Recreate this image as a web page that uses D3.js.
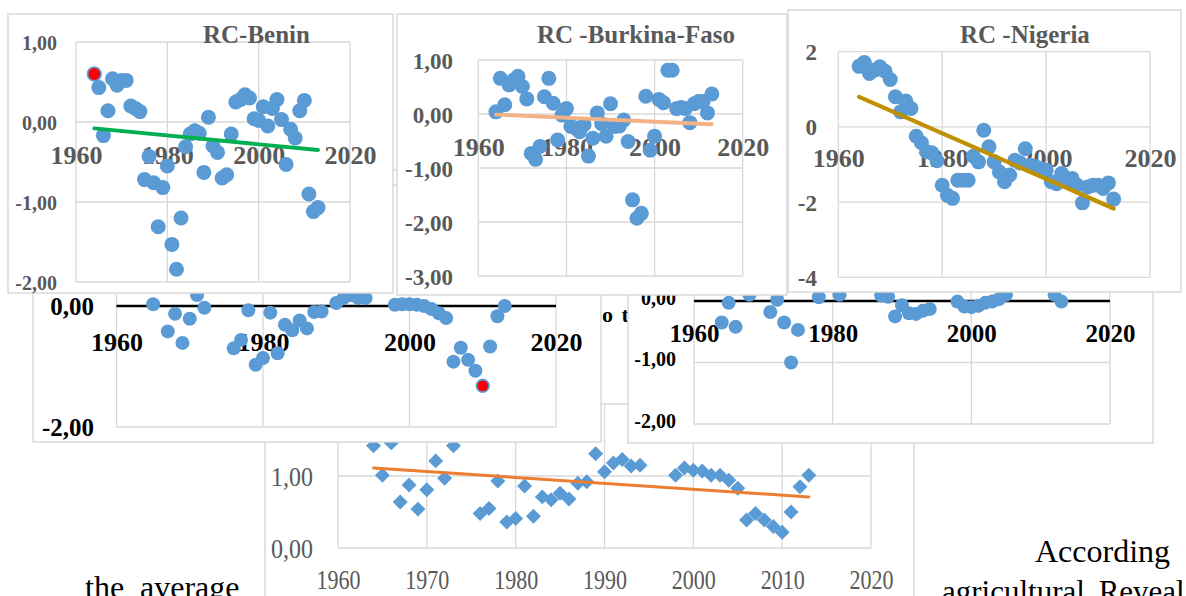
<!DOCTYPE html>
<html>
<head>
<meta charset="utf-8">
<script src="https://cdn.jsdelivr.net/npm/d3@7"></script>
<style>
  html, body { margin: 0; padding: 0; background: #fff; overflow: hidden; }
  svg { display: block; }
</style>
</head>
<body>
<svg id="page" width="1186" height="596"></svg>
<script>
// ---------------- data ----------------
const decadeTicks = [1960, 1970, 1980, 1990, 2000, 2010, 2020];
const twentyTicks = [1960, 1980, 2000, 2020];

// RC - Benin (1964-2013)
const beninYears = [1964,1965,1966,1967,1968,1969,1970,1971,1972,1973,1974,1975,1976,1977,1978,1979,1980,1981,1982,1983,1984,1985,1986,1987,1988,1989,1990,1991,1992,1993,1994,1995,1996,1997,1998,1999,2000,2001,2002,2003,2004,2005,2006,2007,2008,2009,2010,2011,2012,2013];
const beninRC = [0.60,0.43,-0.17,0.14,0.54,0.46,0.52,0.52,0.20,0.17,0.13,-0.72,-0.43,-0.76,-1.31,-0.82,-0.55,-1.53,-1.84,-1.20,-0.31,-0.15,-0.11,-0.14,-0.63,0.06,-0.30,-0.38,-0.70,-0.66,-0.15,0.25,0.28,0.34,0.30,0.04,0.02,0.19,-0.05,0.17,0.28,0.03,-0.53,-0.09,-0.20,0.14,0.27,-0.90,-1.12,-1.07];
const beninTrendYears = [1964, 2013];
const beninTrend = [-0.08, -0.35];
const beninHighlight = [1964];
const beninYTicks = [1, 0, -1, -2];

// RC - Burkina-Faso (1964-2013)
const burkinaYears = [1964,1965,1966,1967,1968,1969,1970,1971,1972,1973,1974,1975,1976,1977,1978,1979,1980,1981,1982,1983,1984,1985,1986,1987,1988,1989,1990,1991,1992,1993,1994,1995,1996,1997,1998,1999,2000,2001,2002,2003,2004,2005,2006,2007,2008,2009,2010,2011,2012,2013];
const burkinaRC = [0.04,0.66,0.17,0.54,0.63,0.70,0.51,0.28,-0.73,-0.84,-0.60,0.32,0.66,0.20,-0.48,-0.02,0.10,-0.23,-0.26,-0.33,-0.20,-0.78,-0.45,0.02,-0.18,-0.41,0.19,-0.23,-0.22,-0.11,-0.51,-1.59,-1.93,-1.84,0.33,-0.67,-0.41,0.27,0.21,0.81,0.81,0.10,0.12,0.10,-0.16,0.19,0.23,0.23,0.02,0.37];
const burkinaTrendYears = [1964, 2013];
const burkinaTrend = [-0.01, -0.19];
const burkinaYTicks = [1, 0, -1, -2, -3];

// RC - Nigeria (1964-2013)
const nigeriaYears = [1964,1965,1966,1967,1968,1969,1970,1971,1972,1973,1974,1975,1976,1977,1978,1979,1980,1981,1982,1983,1984,1985,1986,1987,1988,1989,1990,1991,1992,1993,1994,1995,1996,1997,1998,1999,2000,2001,2002,2003,2004,2005,2006,2007,2008,2009,2010,2011,2012,2013];
const nigeriaRC = [1.61,1.71,1.42,1.51,1.60,1.48,1.26,0.80,0.40,0.69,0.49,-0.25,-0.42,-0.66,-0.69,-0.90,-1.55,-1.82,-1.90,-1.42,-1.42,-1.42,-0.78,-0.93,-0.09,-0.53,-0.93,-1.20,-1.46,-1.28,-0.89,-0.96,-0.58,-1.02,-1.06,-1.11,-1.15,-1.46,-1.51,-1.24,-1.46,-1.37,-1.55,-2.02,-1.60,-1.55,-1.55,-1.64,-1.49,-1.92];
const nigeriaTrendYears = [1964, 2013];
const nigeriaTrend = [0.80, -2.17];
const nigeriaYTicks = [2, 0, -2, -4];

// second-row left panel
const midLeftYears = [1965,1967,1968,1969,1970,1971,1972,1976,1977,1978,1979,1980,1981,1982,1983,1984,1985,1986,1987,1988,1990,1991,1992,1993,1994,1998,1999,2000,2001,2002,2003,2004,2005,2006,2007,2008,2009,2010,2011,2012,2013];
const midLeftRC = [0.03,-0.42,-0.13,-0.61,-0.21,0.18,-0.03,-0.70,-0.56,-0.07,-0.97,-0.86,-0.11,-0.78,-0.31,-0.40,-0.24,-0.37,-0.10,-0.09,0.05,0.13,0.18,0.13,0.13,0.02,0.03,0.03,0.02,0.00,-0.05,-0.12,-0.20,-0.92,-0.69,-0.89,-1.07,-1.32,-0.67,-0.17,0.00];
const midLeftHighlight = [2010];
const midLeftYTicks = [2, 0, -2];

// second-row right panel
const midRightYears = [1964,1965,1966,1968,1971,1972,1973,1974,1975,1978,1981,1987,1988,1989,1990,1991,1992,1993,1994,1998,1999,2000,2001,2002,2003,2004,2005,2012,2013];
const midRightRC = [-0.35,-0.03,-0.42,0.10,-0.18,0.02,-0.35,-1.00,-0.47,0.06,0.10,0.09,0.07,-0.25,-0.07,-0.20,-0.21,-0.16,-0.13,-0.01,-0.09,-0.10,-0.08,-0.03,-0.01,0.03,0.10,0.10,-0.01];
const midRightYTicks = [1, 0, -1, -2];

// bottom panel (diamond markers)
const bottomYears = [1964,1965,1966,1967,1968,1969,1970,1971,1972,1973,1976,1977,1978,1979,1980,1981,1982,1983,1984,1985,1986,1987,1988,1989,1990,1991,1992,1993,1994,1998,1999,2000,2001,2002,2003,2004,2005,2006,2007,2008,2009,2010,2011,2012,2013];
const bottomRC = [1.42,1.01,1.46,0.64,0.875,0.54,0.81,1.21,0.97,1.42,0.48,0.55,0.93,0.36,0.41,0.86,0.44,0.71,0.67,0.76,0.68,0.90,0.92,1.31,1.06,1.18,1.23,1.14,1.15,1.01,1.11,1.08,1.07,1.01,1.01,0.94,0.83,0.39,0.48,0.39,0.30,0.22,0.50,0.85,1.01];
const bottomTrendYears = [1964, 2013];
const bottomTrend = [1.11, 0.71];
const bottomYTicks = [2, 1, 0];

// ---------------- drawing ----------------
const svg = d3.select("#page");
const SERIF = "'Liberation Serif','Times New Roman',serif";
const BLUE = "#5B9BD5";
const GRID = "#D9D9D9";
const GREY_TXT = "#595959";

const commaFmt = v => (v < 0 ? "-" : "") + Math.abs(v).toFixed(2).replace(".", ",");
const intFmt = v => (v < 0 ? "-" : "") + Math.abs(v);

// running text of the page underneath the charts
const pageText = svg.append("g").attr("font-family", SERIF).attr("fill", "#000");
const pageWords = [
  { t: "the", x: 85, y: 598, size: 32, ws: 0 },
  { t: "average", x: 140, y: 598, size: 32, ws: 0 },
  { t: "According", x: 1035, y: 562, size: 32, ws: 0 },
  { t: "agricultural Reveal", x: 942, y: 602, size: 31, ws: 6 }
];
pageText.selectAll("text").data(pageWords).join("text")
  .attr("x", d => d.x).attr("y", d => d.y)
  .attr("font-size", d => d.size).attr("word-spacing", d => d.ws)
  .text(d => d.t);

function drawPanel(p) {
  const g = svg.append("g");
  const [fx0, fy0, fx1, fy1] = p.frame;
  g.append("rect")
    .attr("x", fx0).attr("y", fy0)
    .attr("width", fx1 - fx0).attr("height", fy1 - fy0)
    .attr("fill", "#fff").attr("stroke", GRID).attr("stroke-width", 1.5);

  const x = d3.scaleLinear().domain([1960, 2020]).range([p.plot.l, p.plot.r]);
  const y = d3.scaleLinear().domain(p.yDomain).range([p.plot.t, p.plot.b]);

  // gridlines
  g.append("g").selectAll("line").data(p.xTicks).join("line")
    .attr("x1", d => x(d)).attr("x2", d => x(d))
    .attr("y1", p.plot.t).attr("y2", p.plot.b)
    .attr("stroke", GRID).attr("stroke-width", 1.3);
  g.append("g").selectAll("line").data(p.yTicks).join("line")
    .attr("x1", p.plot.l).attr("x2", p.plot.r)
    .attr("y1", d => y(d)).attr("y2", d => y(d))
    .attr("stroke", GRID).attr("stroke-width", 1.3);

  if (p.zeroLine) {
    g.append("line")
      .attr("x1", p.plot.l).attr("x2", p.plot.r)
      .attr("y1", y(0)).attr("y2", y(0))
      .attr("stroke", "#000").attr("stroke-width", 2.4);
  }

  // axis labels
  const xAxis = d3.axisBottom(x).tickValues(p.xTicks).tickSize(0).tickFormat(d3.format("d"));
  const gx = g.append("g").attr("transform", `translate(0,${p.xLab.y})`).call(xAxis);
  gx.select(".domain").remove();
  gx.attr("font-family", SERIF).attr("font-size", p.xLab.size).attr("font-weight", p.xLab.weight);
  gx.selectAll("text").attr("y", 0).attr("dy", "0.35em").attr("fill", p.xLab.fill)
    .attr("transform", p.xLab.stretch ? `scale(${p.xLab.stretch[0]},${p.xLab.stretch[1]})` : null);

  const yAxis = d3.axisLeft(y).tickValues(p.yTicks).tickSize(0).tickFormat(p.yFmt);
  const gy = g.append("g").attr("transform", `translate(${p.yLab.x},0)`).call(yAxis);
  gy.select(".domain").remove();
  gy.attr("font-family", SERIF).attr("font-size", p.yLab.size).attr("font-weight", p.yLab.weight);
  gy.selectAll("text").attr("x", 0).attr("dy", p.yLab.dy || "0.35em").attr("fill", p.yLab.fill)
    .attr("transform", p.yLab.stretch ? `scale(${p.yLab.stretch[0]},${p.yLab.stretch[1]})` : null);

  if (p.title) {
    g.append("text").attr("x", p.title.x).attr("y", p.title.y)
      .attr("font-family", SERIF).attr("font-size", 25).attr("font-weight", "bold")
      .attr("fill", GREY_TXT).text(p.title.text);
  }

  const pts = p.years.map((yr, i) => ({ yr, v: p.values[i] }));
  if (p.marker === "diamond") {
    const sym = d3.symbol().type(d3.symbolSquare).size(112);
    g.append("g").selectAll("path").data(pts).join("path")
      .attr("d", sym)
      .attr("transform", d => `translate(${x(d.yr)},${y(d.v)}) rotate(45)`)
      .attr("fill", BLUE);
  } else {
    g.append("g").selectAll("circle").data(pts).join("circle")
      .attr("cx", d => x(d.yr)).attr("cy", d => y(d.v)).attr("r", p.r)
      .attr("fill", BLUE);
    const hl = pts.filter(d => (p.highlight || []).includes(d.yr));
    g.append("g").selectAll("circle").data(hl).join("circle")
      .attr("cx", d => x(d.yr)).attr("cy", d => y(d.v)).attr("r", p.r - 0.8)
      .attr("fill", "#FF0000").attr("stroke", BLUE).attr("stroke-width", 1.6);
  }

  if (p.trend) {
    const tl = p.trend.years.map((yr, i) => [x(yr), y(p.trend.values[i])]);
    g.append("path").attr("d", d3.line()(tl))
      .attr("fill", "none").attr("stroke", p.trend.color)
      .attr("stroke-width", p.trend.width).attr("stroke-linecap", "round");
  }
  return g;
}

// bottom layer
drawPanel({
  frame: [265, 290, 914, 640],
  plot: { l: 338, r: 871, t: 404, b: 548 },
  yDomain: [2, 0], xTicks: decadeTicks, yTicks: bottomYTicks, yFmt: commaFmt,
  xLab: { y: 579, size: 22, weight: "normal", fill: GREY_TXT, stretch: [1, 1.25] },
  yLab: { x: 313, size: 24, weight: "normal", fill: GREY_TXT, stretch: [1, 1.12] },
  years: bottomYears, values: bottomRC, marker: "diamond",
  trend: { years: bottomTrendYears, values: bottomTrend, color: "#ED7D31", width: 3 }
});

// text fragment visible between the second-row panels
svg.append("text").attr("x", 602).attr("y", 322)
  .attr("font-family", SERIF).attr("font-size", 22).attr("font-weight", "bold")
  .attr("word-spacing", 3).attr("fill", "#000").text("o t");

// second row
drawPanel({
  frame: [33, 170, 601, 442],
  plot: { l: 116.5, r: 556, t: 185, b: 427 },
  yDomain: [2, -2], xTicks: twentyTicks, yTicks: midLeftYTicks, yFmt: commaFmt,
  zeroLine: true,
  xLab: { y: 342, size: 26, weight: "bold", fill: "#000" },
  yLab: { x: 94, size: 25, weight: "bold", fill: "#000" },
  years: midLeftYears, values: midLeftRC, r: 7, highlight: midLeftHighlight
});
drawPanel({
  frame: [628, 170, 1153, 443],
  plot: { l: 694, r: 1110, t: 239.5, b: 424 },
  yDomain: [1, -2], xTicks: twentyTicks, yTicks: midRightYTicks, yFmt: commaFmt,
  zeroLine: true,
  xLab: { y: 333, size: 25, weight: "bold", fill: "#000" },
  yLab: { x: 676, size: 20, weight: "bold", fill: "#000", dy: "0.15em" },
  years: midRightYears, values: midRightRC, r: 7
});

// top row
drawPanel({
  frame: [8, 14, 393, 293],
  plot: { l: 76, r: 350, t: 42, b: 282 },
  yDomain: [1, -2], xTicks: twentyTicks, yTicks: beninYTicks, yFmt: commaFmt,
  xLab: { y: 155, size: 26, weight: "bold", fill: GREY_TXT },
  yLab: { x: 57, size: 20, weight: "bold", fill: GREY_TXT },
  title: { text: "RC-Benin", x: 203, y: 43 },
  years: beninYears, values: beninRC, r: 7.5, highlight: beninHighlight,
  trend: { years: beninTrendYears, values: beninTrend, color: "#00B050", width: 3.8 }
});
drawPanel({
  frame: [397, 14, 787, 295],
  plot: { l: 478.3, r: 742.7, t: 60, b: 276 },
  yDomain: [1, -3], xTicks: twentyTicks, yTicks: burkinaYTicks, yFmt: commaFmt,
  xLab: { y: 147, size: 26, weight: "bold", fill: GREY_TXT },
  yLab: { x: 453, size: 23, weight: "bold", fill: GREY_TXT },
  title: { text: "RC -Burkina-Faso", x: 537, y: 43 },
  years: burkinaYears, values: burkinaRC, r: 7.5,
  trend: { years: burkinaTrendYears, values: burkinaTrend, color: "#F4B183", width: 3.8 }
});
drawPanel({
  frame: [788, 10, 1181, 292],
  plot: { l: 838.3, r: 1150, t: 51.7, b: 277.3 },
  yDomain: [2, -4], xTicks: twentyTicks, yTicks: nigeriaYTicks, yFmt: intFmt,
  xLab: { y: 158, size: 26, weight: "bold", fill: GREY_TXT },
  yLab: { x: 817, size: 23, weight: "bold", fill: GREY_TXT },
  title: { text: "RC -Nigeria", x: 960, y: 43 },
  years: nigeriaYears, values: nigeriaRC, r: 7.5,
  trend: { years: nigeriaTrendYears, values: nigeriaTrend, color: "#BF9000", width: 4.2 }
});
</script>
</body>
</html>
